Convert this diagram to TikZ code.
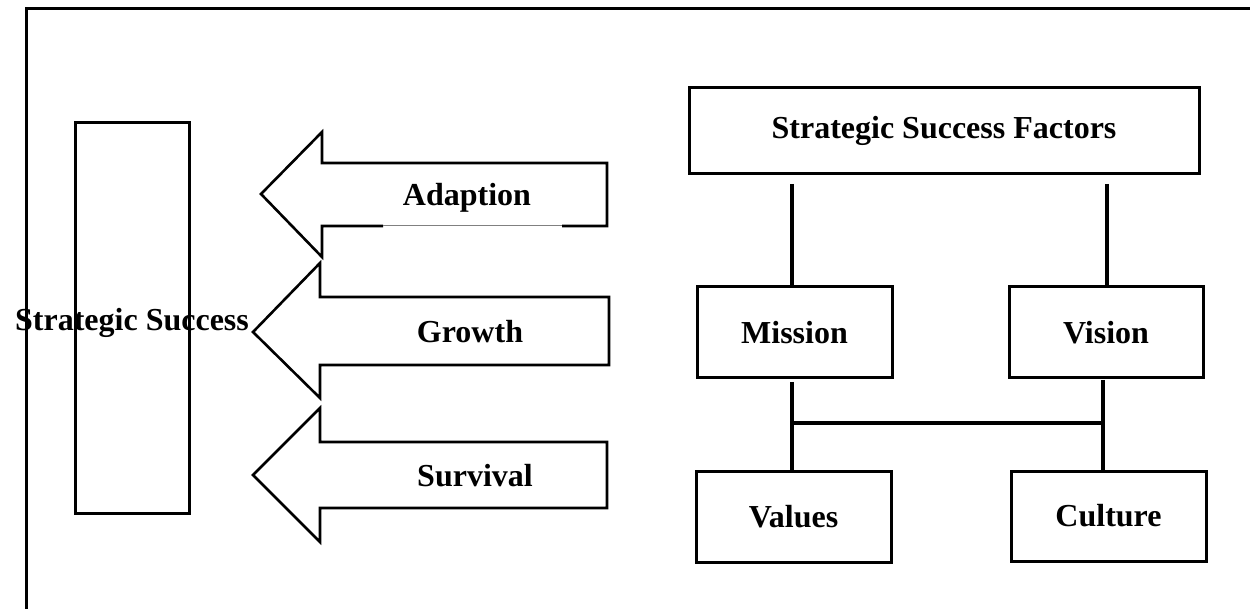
\documentclass[tikz,border=0pt]{standalone}
\usepackage{fontspec}
\setmainfont{Liberation Serif}
\begin{document}
\begin{tikzpicture}[x=1pt,y=-1pt,
  box/.style={draw,line width=3pt,inner sep=0pt},
  lbl/.style={font=\fontsize{32}{38}\selectfont\bfseries,inner sep=0pt},
  shaft/.style={draw,line width=2.6pt,line join=miter},
  link/.style={line width=4pt}]
\useasboundingbox (0,0) rectangle (1250,609);

% page frame (top and left rules)
\draw[line width=3pt] (26,609) -- (26,9) -- (1250,9);

% outcome column
\node[box,minimum width=114,minimum height=390] (ss) at (132,318) {};
\node[lbl] (sslbl) at (132,322.5) {Strategic Success};

% arrows pointing to the outcome
\draw[shaft] (383,226) -- (322,226) -- (322,257) -- (261,194) -- (322,132)
  -- (322,163) -- (607,163) -- (607,226) -- (562,226);
\draw[line width=1pt,gray] (383,226) -- (562,226);
\node[lbl] (adapt) at (467,197.5) {Adaption};

\draw[shaft] (253,332) -- (320,263) -- (320,297) -- (609,297) -- (609,365)
  -- (320,365) -- (320,398) -- cycle;
\node[lbl] (growth) at (470,332) {Growth};

\draw[shaft] (253,475) -- (320,408) -- (320,442) -- (607,442) -- (607,508)
  -- (320,508) -- (320,542) -- cycle;
\node[lbl] (surv) at (475,476) {Survival};

% success factors
\node[box,lbl,minimum width=510,minimum height=86] (ssf) at (944,131) {Strategic Success Factors};
\node[box,lbl,minimum width=195,minimum height=91] (mission) at (794.5,332.5) {Mission};
\node[box,lbl,minimum width=194,minimum height=91] (vision) at (1106,332.5) {Vision};
\node[box,lbl,minimum width=195,minimum height=91] (values) at (793.5,516.5) {Values};
\node[box,lbl,minimum width=195,minimum height=90] (culture) at (1108.5,516) {Culture};

% connectors
\coordinate (tl) at (792,184);
\coordinate (tr) at (1107,184);
\coordinate (bl) at (792,382);
\coordinate (br) at (1103,380);
\draw[link] (tl) -- (tl |- mission.north);
\draw[link] (tr) -- (tr |- vision.north);
\draw[link] (bl) -- (bl |- values.north);
\draw[link] (br) -- (br |- culture.north);
\draw[link] ([yshift=-41]bl) -- ([yshift=-43]br);
\end{tikzpicture}
\end{document}
